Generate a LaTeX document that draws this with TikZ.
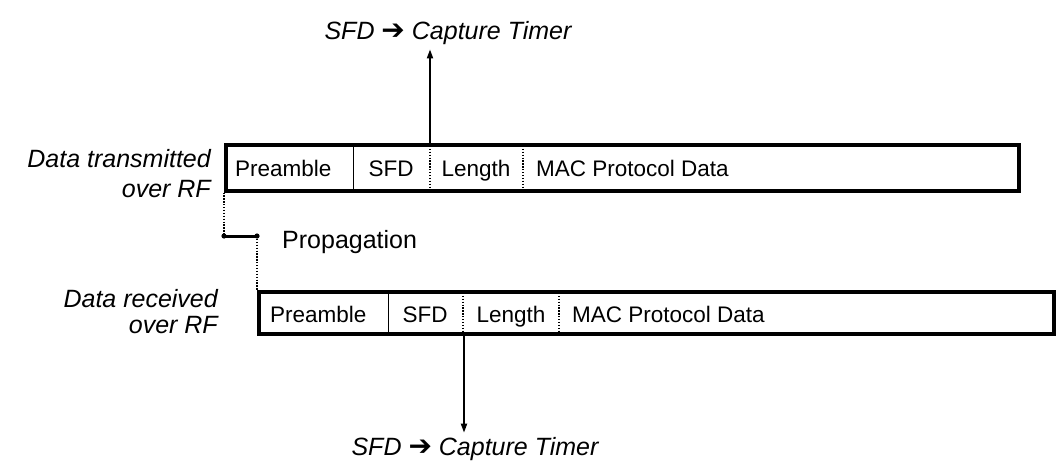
\documentclass[tikz,border=0pt]{standalone}
\usepackage{fontspec}
\setmainfont{Liberation Sans}
\newfontfamily\dvfont{DejaVu Sans}
\usetikzlibrary{arrows.meta,calc}
\begin{document}
\begin{tikzpicture}[x=1pt,y=-1pt,
  frame/.style={draw,line width=3.5pt,inner sep=0pt,anchor=north west},
  sep/.style={line width=1pt},
  dsep/.style={line width=1.3pt,dash pattern=on 1.3pt off 1.6pt},
  cell/.style={inner sep=0pt,font=\fontsize{22.5}{27}\selectfont},
  lbl/.style={inner sep=0pt,font=\fontsize{25}{30}\selectfont\itshape},
  ptr/.style={line width=1.8pt,-{Triangle[length=9pt,width=6pt]}},
  dotend/.style={fill=black},
]
\fill[white] (0,0) rectangle (1058,461);
\useasboundingbox (0,0) rectangle (1058,461);

% frames
\node[frame,minimum width=793pt,minimum height=46pt] (tf) at (224,143) {};
\node[frame,minimum width=795pt,minimum height=42pt] (bf) at (257,290) {};

% top frame dividers
\draw[sep]  ($(tf.north west)+(129,0)$) -- ($(tf.south west)+(129,0)$);
\draw[dsep] ($(tf.north west)+(206,0)$) -- ($(tf.south west)+(206,0)$);
\draw[dsep] ($(tf.north west)+(299,0)$) -- ($(tf.south west)+(299,0)$);

% bottom frame dividers
\draw[sep]  ($(bf.north west)+(131,0)$) -- ($(bf.south west)+(131,0)$);
\draw[dsep] ($(bf.north west)+(206,0)$) -- ($(bf.south west)+(206,0)$);
\draw[dsep] ($(bf.north west)+(302,0)$) -- ($(bf.south west)+(302,0)$);

% top frame texts
\node[cell,anchor=base west] (tpre) at (235,176.5) {Preamble};
\node[cell,anchor=base] (tsfd) at (391,176.5) {SFD};
\node[cell,anchor=base] (tlen) at (476,176.5) {Length};
\node[cell,anchor=base west] (tmac) at (536,176.5) {MAC Protocol Data};

% bottom frame texts
\node[cell,anchor=base west] (bpre) at (270,322) {Preamble};
\node[cell,anchor=base] (bsfd) at (425,322) {SFD};
\node[cell,anchor=base] (blen) at (511,322) {Length};
\node[cell,anchor=base west] (bmac) at (572,322) {MAC Protocol Data};

% left labels
\node[lbl,align=right,anchor=north east] (dt) at (211,149) {Data transmitted\\over RF};
\node[lbl,align=right,anchor=north east,font=\fontsize{25}{26.5}\selectfont\itshape] (dr) at (218,289) {Data received\\over RF};

% capture timer labels and arrows
\node[lbl,anchor=base] (tl) at (448,39) {SFD {\dvfont\upshape\fontsize{28}{30}\selectfont ➔} Capture Timer};
\node[lbl,anchor=base] (bl) at (475,455) {SFD {\dvfont\upshape\fontsize{28}{30}\selectfont ➔} Capture Timer};
\coordinate (ta) at ($(tf.north west)+(206,0)$);
\coordinate (ba) at ($(bf.south west)+(207,0)$);
\draw[ptr,shorten >=5pt] (ta) -- (ta |- tl.south);
\draw[ptr,shorten >=4pt] (ba) -- (ba |- bl.north);

% propagation
\coordinate (p2) at (224,236);
\coordinate (p3) at (257,236);
\draw[dsep] (tf.south west) -- (p2);
\draw[line width=3pt] (p2) -- (p3);
\fill[dotend] (p2) circle (2.6pt);
\fill[dotend] (p3) circle (2.6pt);
\draw[dsep] (p3) -- (bf.north west);
\node[lbl,font=\fontsize{25}{30}\selectfont,anchor=base west] (prop) at (282,248) {Propagation};
\end{tikzpicture}
\end{document}
